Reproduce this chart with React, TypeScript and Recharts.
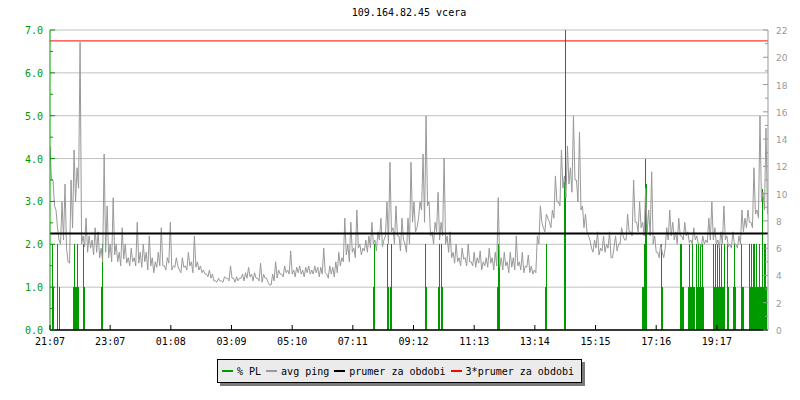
import React from 'react';
import {
  ComposedChart,
  Line,
  Bar,
  XAxis,
  YAxis,
  CartesianGrid,
  ReferenceLine,
} from 'recharts';

const TITLE = '109.164.82.45 vcera';
const MONO = '"DejaVu Sans Mono", monospace';

// x axis: minutes since 21:07
const SPAN_MIN = 1432;
const PL_STEP = 2; // packet loss sampled every 2 min
const PING_STEP = 6; // avg ping read every 6 min (upper reading), +3 min (lower reading)
const timeTicks = [0, 120, 241, 362, 483, 604, 725, 846, 967, 1088, 1209, 1330];
const timeLabels = ['21:07', '23:07', '01:08', '03:09', '05:10', '07:11', '09:12', '11:13', '13:14', '15:15', '17:16', '19:17'];

const plTicks = [0, 0.5, 1, 1.5, 2, 2.5, 3, 3.5, 4, 4.5, 5, 5.5, 6, 6.5, 7];
const plGrid = [0, 1, 2, 3, 4, 5, 6, 7];
const pingTicks = [0, 1, 2, 3, 4, 5, 6, 7, 8, 9, 10, 11, 12, 13, 14, 15, 16, 17, 18, 19, 20, 21, 22];

// avg ping [ms], upper readings every 6 minutes
const pingHigh = [
  13.5, 11.0, 8.8, 6.6, 9.4, 10.7, 5.0, 11.0, 13.2, 11.9,
  21.1, 6.9, 8.2, 6.9, 6.6, 7.5, 7.2, 6.0, 12.9, 9.1,
  6.3, 9.7, 6.3, 5.7, 7.5, 6.3, 5.3, 6.0, 5.3, 7.9,
  5.7, 6.3, 5.7, 6.9, 5.3, 5.0, 5.7, 7.5, 4.7, 5.3,
  7.9, 4.7, 5.3, 4.4, 5.3, 4.7, 5.7, 5.0, 6.9, 5.0,
  4.7, 4.4, 4.1, 4.4, 4.1, 3.6, 3.8, 3.6, 3.9, 3.8,
  4.7, 3.8, 3.9, 3.8, 4.1, 4.2, 4.6, 4.1, 4.2, 3.8,
  4.9, 4.1, 3.8, 3.3, 4.1, 5.0, 4.4, 4.1, 4.7, 4.4,
  5.8, 4.4, 4.6, 4.7, 4.4, 4.6, 4.7, 4.4, 4.7, 4.6,
  4.6, 6.0, 4.1, 4.7, 4.6, 5.0, 5.7, 5.3, 8.2, 6.3,
  7.9, 6.0, 8.8, 6.3, 6.0, 6.6, 6.9, 7.9, 6.6, 7.2,
  8.2, 6.6, 9.4, 12.3, 7.5, 9.1, 6.9, 8.2, 6.3, 8.2,
  12.3, 9.4, 7.5, 9.4, 12.9, 15.7, 9.4, 7.2, 7.9, 10.1,
  7.9, 12.6, 6.9, 7.2, 5.7, 6.3, 5.3, 6.0, 5.3, 6.3,
  5.0, 5.7, 5.3, 5.8, 5.0, 5.3, 6.0, 5.3, 5.7, 9.7,
  5.3, 5.7, 5.0, 5.7, 5.3, 6.9, 5.0, 5.7, 4.7, 5.5,
  4.7, 4.4, 6.9, 9.1, 7.5, 8.5, 7.9, 8.8, 11.3, 9.4,
  13.2, 11.3, 13.5, 11.9, 15.7, 11.0, 14.5, 9.1, 8.5, 6.9,
  6.0, 6.6, 7.2, 6.0, 6.9, 6.3, 7.2, 5.3, 6.9, 6.3,
  7.5, 6.6, 8.5, 7.2, 11.0, 7.9, 9.4, 7.9, 10.4, 8.8,
  11.6, 6.9, 5.7, 6.3, 5.3, 7.5, 8.8, 7.9, 7.2, 8.2,
  6.9, 7.9, 7.2, 6.6, 7.5, 6.9, 6.3, 6.9, 6.6, 8.2,
  9.4, 7.5, 6.6, 7.2, 9.1, 6.9, 6.3, 7.2, 6.3, 6.9,
  8.8, 8.2, 8.8, 7.9, 11.9, 8.8, 15.7, 10.1, 14.8,
];

// avg ping [ms], lower readings, 3 minutes after each upper one
const pingLow = [
  11.0, 9.1, 7.5, 6.3, 6.6, 6.0, 4.9, 7.5, 9.4, 10.4,
  6.3, 6.1, 5.7, 6.0, 5.5, 5.7, 5.3, 5.0, 5.7, 5.3,
  5.0, 5.5, 5.0, 4.7, 5.2, 4.9, 4.7, 5.0, 4.7, 4.9,
  4.6, 5.0, 4.4, 4.7, 4.2, 4.6, 4.7, 4.7, 4.4, 4.9,
  4.4, 4.6, 4.7, 4.2, 4.6, 4.4, 4.7, 4.2, 4.6, 4.4,
  4.2, 4.1, 3.9, 3.8, 3.6, 3.5, 3.6, 3.5, 3.8, 3.6,
  3.8, 3.5, 3.6, 3.8, 3.6, 3.8, 3.9, 3.6, 3.8, 3.6,
  3.5, 3.8, 3.5, 3.3, 3.6, 3.8, 4.1, 3.9, 4.2, 4.1,
  4.1, 3.9, 4.2, 4.1, 3.9, 4.2, 4.1, 4.1, 4.2, 3.9,
  4.1, 4.2, 3.8, 4.1, 3.9, 4.2, 4.7, 5.0, 5.5, 5.0,
  5.7, 5.3, 6.0, 5.5, 5.8, 5.7, 6.0, 6.3, 5.8, 6.6,
  6.1, 6.9, 6.3, 7.2, 6.3, 6.9, 5.8, 6.6, 5.7, 6.3,
  7.9, 7.2, 8.2, 8.8, 7.9, 9.1, 6.9, 6.3, 7.2, 6.6,
  6.9, 6.3, 5.7, 5.3, 4.9, 5.0, 4.7, 5.2, 4.7, 5.0,
  4.7, 4.6, 4.9, 4.4, 4.7, 4.6, 4.9, 4.4, 4.7, 4.6,
  4.4, 4.7, 4.2, 4.6, 4.4, 4.7, 4.4, 4.2, 4.6, 4.2,
  4.1, 4.2, 6.3, 7.9, 7.2, 8.2, 7.5, 8.2, 9.4, 9.1,
  10.4, 9.7, 10.7, 10.1, 11.0, 9.4, 8.8, 7.5, 7.2, 6.6,
  5.7, 6.0, 5.5, 5.8, 5.7, 6.0, 5.3, 6.1, 5.8, 6.3,
  6.9, 6.6, 7.2, 6.9, 7.9, 7.2, 7.5, 6.9, 7.2, 6.9,
  6.3, 5.7, 5.3, 5.7, 6.0, 6.6, 6.9, 6.6, 6.3, 6.9,
  6.6, 6.9, 6.4, 6.3, 6.6, 6.3, 6.1, 6.3, 6.4, 6.6,
  6.6, 6.3, 6.0, 6.3, 6.6, 6.1, 6.0, 6.3, 6.0, 6.3,
  7.2, 7.5, 7.9, 7.5, 8.5, 8.2, 9.4, 8.8, 8.5,
];

// packet loss [%]: [2-minute sample index, value]
const packetLoss: [number, number][] = [
  [3, 2], [4, 1], [8, 2], [9, 1], [23, 1], [24, 2], [25, 1], [26, 1], [27, 2], [28, 1],
  [33, 2], [34, 1], [51, 1], [52, 2],
  [323, 1], [324, 2], [337, 2], [338, 1], [340, 1], [341, 2],
  [374, 2], [375, 1], [387, 1], [388, 2], [390, 2], [391, 1], [446, 1], [447, 2], [448, 1.55],
  [494, 1], [495, 2], [513, 3.45], [514, 7], [591, 1], [592, 1], [593, 2], [594, 4], [595, 3.4],
  [610, 2], [611, 1], [629, 2], [630, 2], [631, 1], [632, 1], [637, 1], [638, 2], [639, 1], [640, 1],
  [641, 2], [642, 1], [643, 1], [645, 2], [646, 1], [647, 2], [648, 1], [649, 2], [650, 1], [651, 2], [652, 1],
  [662, 2], [663, 1], [664, 2], [665, 1], [666, 2], [667, 1], [668, 2], [669, 1], [670, 2], [671, 1],
  [672, 1], [673, 2], [676, 2], [677, 1], [682, 1], [683, 2], [684, 1], [690, 2], [691, 1], [692, 1],
  [698, 2], [699, 1], [700, 2], [701, 1], [702, 2], [703, 2], [704, 1], [705, 2], [706, 1], [707, 1],
  [708, 2], [709, 1], [710, 1], [711, 3.3], [712, 1], [713, 2], [714, 2], [715, 1],
];

const PRUMER = 7.07;
const PRUMER_3X = 21.2;

const GREEN = '#009900';
const GRAY = '#999999';

type Row = { t: number; ping?: number; pl?: number };

const plMap = new Map(packetLoss);
const rows: Row[] = [];
for (let t = 0; t <= SPAN_MIN; t += 1) {
  const row: Row = { t };
  const i = Math.floor(t / PING_STEP);
  if (i < pingHigh.length) {
    if (t % PING_STEP === 0) row.ping = pingHigh[i];
    if (t % PING_STEP === PING_STEP / 2) row.ping = pingLow[i];
  }
  if (t % PL_STEP === 0 && plMap.has(t / PL_STEP)) row.pl = plMap.get(t / PL_STEP);
  rows.push(row);
}

const legendItems = [
  { label: '% PL', color: GREEN },
  { label: 'avg ping', color: GRAY },
  { label: 'prumer za obdobi', color: '#000000' },
  { label: '3*prumer za obdobi', color: '#ff0000' },
];

function TimeTick(props: any) {
  const { x, y, payload } = props;
  const idx = timeTicks.indexOf(payload.value);
  return (
    <g>
      <line x1={x} x2={x} y1={y} y2={y - 5} stroke="#000" />
      <text x={x} y={y + 15} textAnchor="middle" fontFamily={MONO} fontSize={10} fill="#000">
        {timeLabels[idx]}
      </text>
    </g>
  );
}

function PlTick(props: any) {
  const { x, y, payload } = props;
  const major = Number.isInteger(payload.value);
  return (
    <g>
      <line x1={x} x2={x + (major ? 5 : 3)} y1={y} y2={y} stroke={GREEN} />
      {major && (
        <text x={x - 7} y={y + 4} textAnchor="end" fontFamily={MONO} fontSize={10} fill={GREEN}>
          {payload.value.toFixed(1)}
        </text>
      )}
    </g>
  );
}

function PingTick(props: any) {
  const { x, y, payload } = props;
  const major = payload.value % 2 === 0;
  return (
    <g>
      <line x1={x - (major ? 5 : 3)} x2={x} y1={y} y2={y} stroke={GRAY} />
      {major && (
        <text x={x + 8} y={y + 4} textAnchor="start" fontFamily='"DejaVu Sans", sans-serif' fontSize={9} fill={GRAY}>
          {payload.value}
        </text>
      )}
    </g>
  );
}

function PlBar(props: any) {
  const { x, y, width, height } = props;
  if (!height || height <= 0) return null;
  return <rect x={Math.round(x + width / 2 - 0.5)} y={y} width={1} height={height} fill={GREEN} shapeRendering="crispEdges" />;
}

export default function App() {
  return (
    <div style={{ position: 'absolute', left: 0, top: 0, width: 800, height: 400, background: '#fff' }}>
      <div
        style={{
          position: 'absolute',
          left: 0,
          width: 818,
          top: 6,
          textAlign: 'center',
          fontFamily: MONO,
          fontSize: 10,
          lineHeight: '14px',
        }}
      >
        {TITLE}
      </div>
      <ComposedChart width={800} height={400} data={rows} margin={{ top: 30, right: 0, bottom: 40, left: 0 }}>
        <CartesianGrid
          yAxisId="left"
          vertical={false}
          horizontalValues={plGrid}
          stroke="#c0c0c0"
        />
        <XAxis
          dataKey="t"
          type="number"
          domain={[0, SPAN_MIN]}
          ticks={timeTicks}
          interval={0}
          height={30}
          tickSize={0}
          tickMargin={0}
          tickLine={false}
          axisLine={{ stroke: '#000', strokeWidth: 1.5 }}
          tick={<TimeTick />}
          allowDataOverflow
        />
        <YAxis
          yAxisId="left"
          domain={[0, 7]}
          ticks={plTicks}
          interval={0}
          width={50}
          tickSize={0}
          tickMargin={0}
          tickLine={false}
          axisLine={{ stroke: GREEN }}
          tick={<PlTick />}
        />
        <YAxis
          yAxisId="right"
          orientation="right"
          domain={[0, 22]}
          ticks={pingTicks}
          interval={0}
          width={32}
          tickSize={0}
          tickMargin={0}
          tickLine={false}
          axisLine={{ stroke: GRAY }}
          tick={<PingTick />}
        />
        <Line
          yAxisId="right"
          dataKey="ping"
          stroke={GRAY}
          strokeWidth={1}
          dot={false}
          connectNulls
          type="linear"
          isAnimationActive={false}
        />
        <Bar yAxisId="left" dataKey="pl" fill={GREEN} barSize={1} shape={<PlBar />} isAnimationActive={false} />
        <ReferenceLine yAxisId="right" y={PRUMER} stroke="#000" strokeWidth={2} />
        <ReferenceLine yAxisId="right" y={PRUMER_3X} stroke="#ff0000" strokeWidth={1} />
      </ComposedChart>
      <div
        style={{
          position: 'absolute',
          left: 217,
          top: 359,
          height: 22,
          padding: '0 7px 0 4px',
          border: '1px solid #000',
          background: '#ebebeb',
          boxShadow: '3px 3px 0 #7a7a7a',
          display: 'flex',
          alignItems: 'center',
          fontFamily: MONO,
          fontSize: 10,
          whiteSpace: 'pre',
        }}
      >
        {legendItems.map((it, i) => (
          <span key={it.label} style={{ display: 'flex', alignItems: 'center', marginLeft: i === 0 ? 0 : 5 }}>
            <span style={{ display: 'inline-block', width: 11, height: 2, background: it.color, marginRight: 4 }} />
            <span>{it.label}</span>
          </span>
        ))}
      </div>
    </div>
  );
}
